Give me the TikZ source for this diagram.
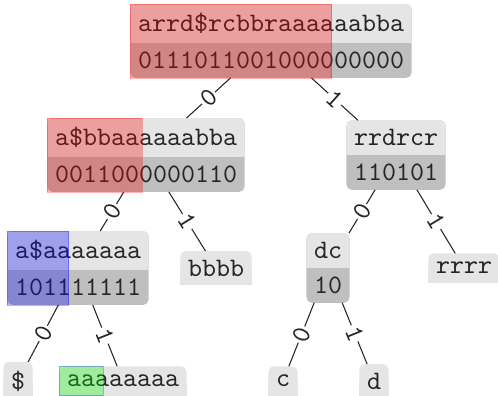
\documentclass[tikz,border=0pt]{standalone}
\usetikzlibrary{shapes.multipart}
\pgfdeclarelayer{bg}
\pgfsetlayers{bg,main}
\tikzset{
  wt/.style={rectangle split, rectangle split parts=2, inner xsep=2.625pt, inner ysep=3.1pt,
    font=\ttfamily, text=black!85},
  leaf/.style={rectangle, inner xsep=2.625pt, inner ysep=3.1pt, font=\ttfamily, text=black!85},
  lbl/.style={sloped, midway, fill=white, inner sep=0.6pt, font=\ttfamily, text=black!85},
  edge/.style={black!85, line width=0.4pt},
  upfill/.style={fill=black!10},
  lowfill/.style={fill=black!25},
  redov/.style={fill=red, fill opacity=0.3, draw=red, draw opacity=0.3, line width=0.3pt},
  blueov/.style={fill=blue, fill opacity=0.3, draw=blue, draw opacity=0.3, line width=0.3pt},
  greenov/.style={fill=green, fill opacity=0.3, draw=blue, draw opacity=0.3, line width=0.3pt},
}
\begin{document}
\begin{tikzpicture}[x=0.375pt, y=-0.375pt]
\useasboundingbox (0,0) rectangle (498,395);
% internal nodes
\node[wt] (root) at (271,41) {arrd\$rcbbraaaaaabba\nodepart{two}0111011001000000000};
\node[wt] (L1) at (146,155) {a\$bbaaaaaabba\nodepart{two}0011000000110};
\node[wt] (R1) at (396,155) {rrdrcr\nodepart{two}110101};
\node[wt] (LL) at (78,268) {a\$aaaaaaa\nodepart{two}101111111};
\node[wt] (dc) at (328,268) {dc\nodepart{two}10};
% leaves
\node[leaf] (bbbb) at (216,268) {bbbb};
\node[leaf] (rrrr) at (464,268) {rrrr};
\node[leaf] (dol) at (18,381) {\$};
\node[leaf] (a8) at (123,381) {aaaaaaaa};
\node[leaf] (c) at (283,381) {c};
\node[leaf] (d) at (374,381) {d};
% backgrounds
\begin{pgfonlayer}{bg}
\foreach \n in {root,L1,R1,LL,dc} {
  \fill[lowfill, rounded corners=2pt] (\n.north west) rectangle (\n.south east);
  \begin{scope}
    \clip (\n.north west) rectangle (\n.text split east);
    \fill[upfill, rounded corners=2pt] (\n.north west) rectangle (\n.south east);
  \end{scope}
}
\foreach \n in {bbbb,rrrr,dol,a8,c,d} {
  \fill[upfill, rounded corners=2pt] (\n.north west) rectangle (\n.south east);
  \fill[upfill] (\n.west) rectangle (\n.south east);
}
\end{pgfonlayer}
% edges
\draw[edge] (root) -- node[lbl]{0} (L1);
\draw[edge] (root) -- node[lbl]{1} (R1);
\draw[edge] (L1) -- node[lbl]{0} (LL);
\draw[edge] (L1) -- node[lbl]{1} (bbbb);
\draw[edge] (LL) -- node[lbl]{0} (dol);
\draw[edge] (LL) -- node[lbl]{1} (a8);
\draw[edge] (R1) -- node[lbl]{0} (dc);
\draw[edge] (R1) -- node[lbl]{1} (rrrr);
\draw[edge] (dc) -- node[lbl]{0} (c);
\draw[edge] (dc) -- node[lbl]{1} (d);
% overlays
\path[redov] (root.north west) rectangle ([xshift=75.4pt]root.south west);
\path[redov] (L1.north west) rectangle ([xshift=35.6pt]L1.south west);
\path[blueov] (LL.north west) rectangle ([xshift=22.9pt]LL.south west);
\path[greenov] (a8.north west) rectangle ([xshift=16.5pt]a8.south west);
\end{tikzpicture}
\end{document}
